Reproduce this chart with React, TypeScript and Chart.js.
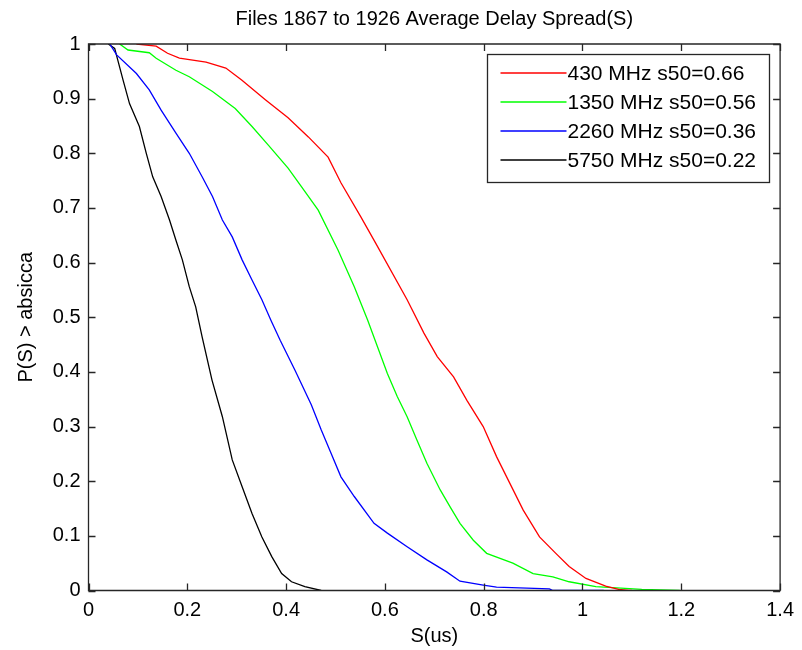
import React, { useEffect, useRef } from "react";
import { Chart, registerables } from "chart.js";

Chart.register(...registerables);

const titleText = "Files 1867 to 1926 Average Delay Spread(S)";
const xTitle = "S(us)";
const yTitle = "P(S) > absicca";

const seriesLabels = [
  "430 MHz s50=0.66",
  "1350 MHz s50=0.56",
  "2260 MHz s50=0.36",
  "5750 MHz s50=0.22",
];
const seriesColors = ["#ff0000", "#00ff00", "#0000ff", "#000000"];

const redX = [0.097, 0.137, 0.160, 0.184, 0.238, 0.278, 0.310, 0.358, 0.404, 0.445, 0.485, 0.511, 0.551, 0.581, 0.645, 0.679, 0.706, 0.739, 0.766, 0.799, 0.826, 0.853, 0.880, 0.913, 0.946, 0.973, 1.007, 1.047, 1.073, 1.094, 1.100];
const redY = [1.0, 0.996, 0.983, 0.974, 0.967, 0.956, 0.934, 0.898, 0.865, 0.830, 0.793, 0.746, 0.684, 0.636, 0.532, 0.471, 0.428, 0.391, 0.348, 0.300, 0.245, 0.196, 0.147, 0.098, 0.068, 0.044, 0.022, 0.008, 0.002, 0.0, 0.0];

const greenX = [0.063, 0.080, 0.123, 0.137, 0.177, 0.204, 0.251, 0.297, 0.331, 0.364, 0.404, 0.431, 0.465, 0.505, 0.538, 0.565, 0.585, 0.605, 0.625, 0.645, 0.665, 0.685, 0.712, 0.732, 0.752, 0.779, 0.806, 0.859, 0.900, 0.940, 0.973, 1.027, 1.120, 1.197];
const greenY = [1.0, 0.989, 0.984, 0.974, 0.952, 0.940, 0.913, 0.882, 0.849, 0.815, 0.773, 0.739, 0.696, 0.623, 0.556, 0.495, 0.446, 0.397, 0.355, 0.318, 0.275, 0.233, 0.184, 0.153, 0.123, 0.092, 0.068, 0.050, 0.031, 0.025, 0.016, 0.007, 0.002, 0.0];

const blueX = [0.043, 0.057, 0.097, 0.123, 0.147, 0.177, 0.204, 0.230, 0.251, 0.271, 0.291, 0.311, 0.331, 0.351, 0.369, 0.388, 0.418, 0.451, 0.471, 0.491, 0.511, 0.538, 0.578, 0.605, 0.645, 0.685, 0.725, 0.752, 0.799, 0.826, 0.933, 0.940, 1.043];
const blueY = [1.0, 0.980, 0.946, 0.916, 0.879, 0.837, 0.800, 0.757, 0.721, 0.678, 0.647, 0.605, 0.568, 0.532, 0.495, 0.458, 0.403, 0.340, 0.294, 0.251, 0.208, 0.172, 0.123, 0.105, 0.080, 0.056, 0.034, 0.017, 0.010, 0.006, 0.003, 0.0, 0.0];

const blackX = [0.040, 0.053, 0.070, 0.083, 0.103, 0.117, 0.130, 0.147, 0.164, 0.177, 0.190, 0.204, 0.217, 0.230, 0.250, 0.271, 0.291, 0.311, 0.331, 0.351, 0.371, 0.391, 0.411, 0.438, 0.471];
const blackY = [1.0, 0.992, 0.934, 0.891, 0.849, 0.800, 0.757, 0.721, 0.678, 0.641, 0.605, 0.556, 0.519, 0.464, 0.385, 0.318, 0.239, 0.190, 0.141, 0.098, 0.062, 0.031, 0.016, 0.007, 0.0];

const xTicksMin = 0;
const xTicksMax = 1.4;
const xTickStep = 0.2;
const yTicksMin = 0;
const yTicksMax = 1;
const yTickStep = 0.1;

const FONT = "Arial, 'Liberation Sans', sans-serif";
const FONT_SIZE = 20;
const LEGEND_FONT_SIZE = 21;

function pts(xs: number[], ys: number[]) {
  return xs.map((x, i) => ({ x, y: ys[i] }));
}

function fmt(v: any) {
  return String(Number(Number(v).toFixed(3)));
}

const boxPlugin = {
  id: "matlabBox",
  afterDatasetsDraw(chart: any) {
    const { ctx, chartArea } = chart;
    const { left, right, top, bottom } = chartArea;
    const xs = chart.scales.x;
    const ys = chart.scales.y;
    const L = 7;
    ctx.save();
    ctx.strokeStyle = "#262626";
    ctx.lineWidth = 1.3;
    ctx.beginPath();
    ctx.rect(left, top, right - left, bottom - top);
    ctx.stroke();
    ctx.beginPath();
    xs.ticks.forEach((t: any) => {
      const px = Math.round(xs.getPixelForValue(t.value)) + 0.5;
      ctx.moveTo(px, bottom);
      ctx.lineTo(px, bottom - L);
      ctx.moveTo(px, top);
      ctx.lineTo(px, top + L);
    });
    ys.ticks.forEach((t: any) => {
      const py = Math.round(ys.getPixelForValue(t.value)) + 0.5;
      ctx.moveTo(left, py);
      ctx.lineTo(left + L, py);
      ctx.moveTo(right, py);
      ctx.lineTo(right - L, py);
    });
    ctx.stroke();

    // legend box
    const bx = 487.5, by = 54.5, bw = 282, bh = 128;
    ctx.fillStyle = "#ffffff";
    ctx.fillRect(bx, by, bw, bh);
    ctx.lineWidth = 1.3;
    ctx.strokeStyle = "#262626";
    ctx.strokeRect(bx, by, bw, bh);
    ctx.font = `${LEGEND_FONT_SIZE}px ${FONT}`;
    ctx.textBaseline = "middle";
    ctx.textAlign = "left";
    chart.data.datasets.forEach((ds: any, i: number) => {
      const cy = 73 + i * 29;
      ctx.beginPath();
      ctx.strokeStyle = seriesColors[i];
      ctx.lineWidth = 1.4;
      ctx.moveTo(bx + 13, cy);
      ctx.lineTo(bx + 79, cy);
      ctx.stroke();
      ctx.fillStyle = "#000000";
      ctx.fillText(ds.label, bx + 80, cy + 1);
    });
    ctx.restore();
  },
};

export default function App() {
  const ref = useRef<HTMLCanvasElement | null>(null);
  useEffect(() => {
    if (!ref.current) return;
    const data = [pts(redX, redY), pts(greenX, greenY), pts(blueX, blueY), pts(blackX, blackY)];
    const chart = new Chart(ref.current, {
      type: "line",
      data: {
        datasets: data.map((d, i) => ({
          label: seriesLabels[i],
          data: d,
          borderColor: seriesColors[i],
          backgroundColor: seriesColors[i],
          borderWidth: 1.3,
          pointRadius: 0,
          tension: 0,
          fill: false,
        })),
      },
      options: {
        animation: false,
        responsive: false,
        maintainAspectRatio: false,
        layout: { padding: { left: 0, right: 17, top: 0, bottom: 0 } },
        plugins: {
          legend: { display: false },
          tooltip: { enabled: false },
          title: {
            display: true,
            fullSize: false,
            text: titleText,
            color: "#000",
            font: { family: FONT, size: FONT_SIZE, weight: "normal" as any },
            padding: { top: 7, bottom: 13 },
          },
        },
        scales: {
          x: {
            type: "linear",
            min: xTicksMin,
            max: xTicksMax,
            ticks: {
              stepSize: xTickStep,
              color: "#000",
              font: { family: FONT, size: FONT_SIZE },
              padding: 8,
              maxRotation: 0,
              callback: (v: any) => fmt(v),
            },
            grid: { display: false, drawTicks: false },
            border: { display: false },
            title: {
              display: true,
              text: xTitle,
              color: "#000",
              font: { family: FONT, size: FONT_SIZE },
              padding: { top: 0, bottom: 2 },
            },
            afterFit(scale: any) {
              scale.height = 59.5;
            },
          },
          y: {
            type: "linear",
            min: yTicksMin,
            max: yTicksMax,
            ticks: {
              stepSize: yTickStep,
              color: "#000",
              font: { family: FONT, size: FONT_SIZE },
              padding: 8,
              callback: (v: any) => fmt(v),
            },
            grid: { display: false, drawTicks: false },
            border: { display: false },
            title: {
              display: true,
              text: yTitle,
              color: "#000",
              font: { family: FONT, size: FONT_SIZE },
              padding: { top: 14, bottom: 0 },
            },
            afterFit(scale: any) {
              scale.width = 88.5;
            },
          },
        },
      },
      plugins: [boxPlugin],
    });
    return () => chart.destroy();
  }, []);
  return (
    <div style={{ position: "absolute", left: 0, top: 0, width: 802, height: 650, background: "#fff" }}>
      <canvas ref={ref} width={802} height={650} style={{ display: "block", width: 802, height: 650 }} />
    </div>
  );
}
